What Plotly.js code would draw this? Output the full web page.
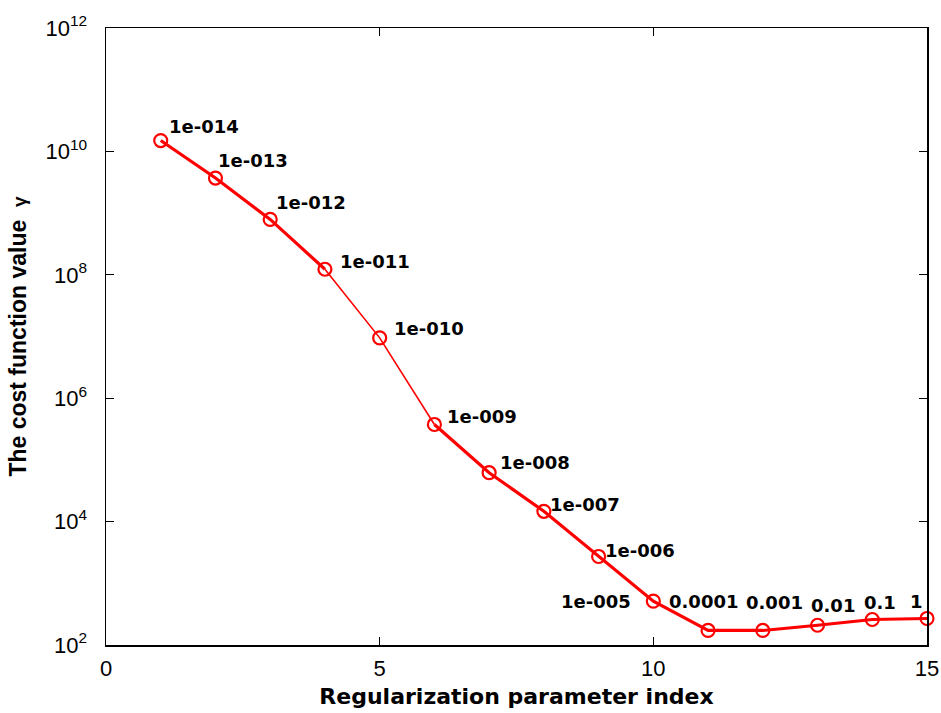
<!DOCTYPE html>
<html>
<head>
<meta charset="utf-8">
<script src="https://cdn.plot.ly/plotly-3.0.1.min.js"></script>
<style>
  html, body { margin: 0; padding: 0; background: #fff; }
  #chart { width: 941px; height: 713px; }
</style>
</head>
<body>
<div id="chart"></div>
<script>
// Regularization parameter index (1..15)
const paramIndex = [1, 2, 3, 4, 5, 6, 7, 8, 9, 10, 11, 12, 13, 14, 15];

// Cost function value gamma at each regularization parameter
const costValues = [1.5e10, 3.7e9, 7.9e8, 1.23e8, 9.5e6, 3.75e5, 6.2e4, 1.47e4,
                    2.72e3, 513, 172, 172, 209, 259, 269];

// Regularization parameter attached to each point
const lambdaLabels = ["1e-014", "1e-013", "1e-012", "1e-011", "1e-010", "1e-009",
                      "1e-008", "1e-007", "1e-006", "1e-005", "0.0001", "0.001",
                      "0.01", "0.1", "1"];

// Y tick positions and their labels
const yTickVals = [1e2, 1e4, 1e6, 1e8, 1e10, 1e12];
const yTickText = ["10<sup>2</sup>", "10<sup>4</sup>", "10<sup>6</sup>",
                   "10<sup>8</sup>", "10<sup>10</sup>", "10<sup>12</sup>"];

// Pixel offsets of each text label from its point (x to text edge, y to centre, down positive)
const labelDx = [6, 1, 4, 13, 12, 11, 9, 4, 4, -20, -41, -19, -9, -10, -19];
const labelDy = [-14, -18, -17, -8, -9, -8, -10, -7, -6, 0, -29, -28, -20, -17, -17];
// The 1e-005 label sits to the left of its point
const labelAnchor = ['left', 'left', 'left', 'left', 'left', 'left', 'left', 'left',
                     'left', 'right', 'left', 'left', 'left', 'left', 'left'];

const RED = '#ff0000';

// Line drawn in pieces: the stretch from 1e-011 to 1e-009 is thinner
function segment(a, b, w) {
  return {
    x: paramIndex.slice(a, b + 1),
    y: costValues.slice(a, b + 1),
    mode: 'lines',
    type: 'scatter',
    line: { color: RED, width: w },
    hoverinfo: 'skip',
    cliponaxis: false,
    showlegend: false
  };
}

const traces = [
  segment(0, 3, 3.2),
  segment(3, 5, 1.6),
  segment(5, 14, 3.2),
  {
    x: paramIndex,
    y: costValues,
    mode: 'markers',
    type: 'scatter',
    marker: { symbol: 'circle-open', size: 13, color: RED, line: { color: RED, width: 2.2 } },
    cliponaxis: false,
    showlegend: false
  }
];

const annotations = lambdaLabels.map((t, i) => ({
  x: paramIndex[i],
  y: Math.log10(costValues[i]),
  xref: 'x', yref: 'y',
  text: t,
  showarrow: false,
  xanchor: labelAnchor[i],
  yanchor: 'middle',
  xshift: labelDx[i],
  yshift: -labelDy[i],
  font: { family: 'DejaVu Sans', size: 18, color: '#000', weight: 'bold' }
}));

const layout = {
  width: 941,
  height: 713,
  margin: { l: 106, r: 14, t: 28, b: 68 },
  paper_bgcolor: '#fff',
  plot_bgcolor: '#fff',
  showlegend: false,
  font: { family: 'Liberation Sans, Arial, sans-serif', color: '#000' },
  xaxis: {
    range: [0, 15],
    tickvals: [0, 5, 10, 15],
    ticktext: ['0', '5', '10', '15'],
    ticks: 'inside',
    ticklen: 8,
    tickwidth: 1.2,
    tickcolor: '#000',
    showline: true,
    linecolor: '#000',
    linewidth: 1.5,
    mirror: 'ticks',
    showgrid: false,
    zeroline: false,
    tickfont: { family: 'Liberation Sans, Arial, sans-serif', size: 22, color: '#000' },
    ticklabelstandoff: 3,
    title: {
      text: 'Regularization parameter index',
      font: { family: 'DejaVu Sans', size: 22, color: '#000', weight: 'bold' },
      standoff: 8
    }
  },
  yaxis: {
    type: 'log',
    range: [2, 12],
    tickvals: yTickVals,
    ticktext: yTickText,
    ticks: 'inside',
    ticklen: 8,
    tickwidth: 1.2,
    tickcolor: '#000',
    showline: true,
    linecolor: '#000',
    linewidth: 1.5,
    mirror: 'ticks',
    showgrid: false,
    zeroline: false,
    tickfont: { family: 'Liberation Sans, Arial, sans-serif', size: 22, color: '#000' },
    ticklabelstandoff: 13,
    title: {
      text: 'The cost function value  <span style="font-size:19px">γ</span>',
      font: { family: 'Liberation Sans, Arial, sans-serif', size: 23, color: '#000', weight: 'bold' },
      standoff: 12
    }
  },
  annotations: annotations
};

Plotly.newPlot('chart', traces, layout, { displayModeBar: false, staticPlot: true });
</script>
</body>
</html>
